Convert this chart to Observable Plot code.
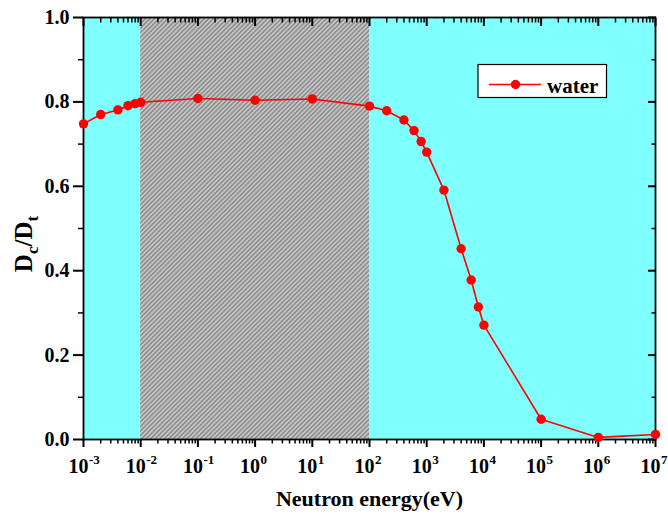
<!DOCTYPE html>
<html>
<head>
<meta charset="utf-8">
<script src="https://cdn.jsdelivr.net/npm/d3@7"></script>
<script src="https://cdn.jsdelivr.net/npm/@observablehq/plot@0.6"></script>
<style>
  html, body { margin: 0; padding: 0; background: #fff; }
  #chart svg { display: block; }
</style>
</head>
<body>
<div id="chart"></div>
<script>
// Neutron energy (eV) and the dose ratio Dc/Dt for water
const energy = [1e-3, 2e-3, 4e-3, 6e-3, 8e-3, 1e-2, 1e-1, 1, 10, 100, 200, 400, 600, 800,
                1e3, 2e3, 4e3, 6e3, 8e3, 1e4, 1e5, 1e6, 1e7];
const ratio = [0.748, 0.770, 0.781, 0.791, 0.796, 0.799, 0.808, 0.804, 0.807, 0.790, 0.779, 0.757,
               0.732, 0.706, 0.681, 0.591, 0.452, 0.378, 0.314, 0.271, 0.048, 0.005, 0.012];
const seriesName = "water";

// shaded energy band
const bandStart = [1e-2];
const bandEnd = [1e2];

// axis ticks
const decadeExponents = [-3, -2, -1, 0, 1, 2, 3, 4, 5, 6, 7];
const minorMultipliers = [2, 3, 4, 5, 6, 7, 8, 9];
const yTicks = [0, 0.2, 0.4, 0.6, 0.8, 1.0];
const yMinorTicks = [0.1, 0.3, 0.5, 0.7, 0.9];

const points = energy.map((e, i) => ({energy: e, ratio: ratio[i]}));
const band = bandStart.map((s, i) => ({start: s, end: bandEnd[i]}));
const xMajor = decadeExponents.map(k => 10 ** k);
const xMinor = decadeExponents.slice(0, -1).flatMap(k => minorMultipliers.map(m => m * 10 ** k));

const serif = "'Liberation Serif', 'Times New Roman', Times, serif";
const xMin = 1e-3, xMax = 1e7;

const noText = () => "";
const majorLen = 8, minorLen = 4.5;

// an axis of bare tick marks; `inward` shifts the outward-pointing ticks back across the frame edge
function tickAxis(dim, anchor, values, len, width, inward) {
  const shift = inward ? (anchor === "top" ? len : anchor === "right" ? -len : 0) : 0;
  const opts = {anchor, tickSize: len, tickPadding: 0, tickFormat: noText, label: null,
                stroke: "#000", strokeWidth: width};
  return dim === "x"
    ? Plot.axisX(values, {...opts, dy: shift})
    : Plot.axisY(values, {...opts, dx: shift});
}

const chart = Plot.plot({
  width: 668,
  height: 517,
  marginLeft: 83,
  marginRight: 13,
  marginTop: 17,
  marginBottom: 78,
  x: {type: "log", domain: [xMin, xMax], axis: null},
  y: {domain: [0, 1], axis: null},
  style: {fontFamily: serif, background: "#fff", overflow: "visible"},
  marks: [
    Plot.frame({fill: "#80ffff", stroke: null}),
    Plot.rect(band, {x1: "start", x2: "end", fill: "url(#hatch)"}),

    // bottom and left: outward ticks; top and right: inward ticks
    tickAxis("x", "bottom", xMajor, majorLen + 0, 2, false),
    tickAxis("x", "bottom", xMinor, minorLen, 1.5, false),
    tickAxis("x", "top", xMajor, majorLen, 2, true),
    tickAxis("x", "top", xMinor, minorLen, 1.5, true),
    tickAxis("y", "left", yTicks, 10, 2, false),
    tickAxis("y", "left", yMinorTicks, 5, 1.5, false),
    tickAxis("y", "right", yTicks, majorLen, 2, true),
    tickAxis("y", "right", yMinorTicks, minorLen, 1.5, true),

    Plot.frame({stroke: "#000", strokeWidth: 1.8}),

    // tick labels
    Plot.text(decadeExponents, {x: d => 10 ** d, y: 0, text: () => "10", textAnchor: "end", dx: 5, dy: 27.5,
      fontSize: 20, fontWeight: "bold", fill: "#000"}),
    Plot.text(decadeExponents, {x: d => 10 ** d, y: 0, text: d => String(d), textAnchor: "start", dx: 5.5, dy: 20,
      fontSize: 13, fontWeight: "bold", fill: "#000"}),
    Plot.text(yTicks, {x: xMin, y: d => d, text: d => d.toFixed(1), textAnchor: "end", dx: -14,
      fontSize: 20, fontWeight: "bold", fill: "#000"}),

    // x axis title
    Plot.text(["Neutron energy(eV)"], {frameAnchor: "bottom", text: d => d, dy: 66,
      fontSize: 22, fontWeight: "bold", fill: "#000"}),

    // data series
    Plot.line(points, {x: "energy", y: "ratio", stroke: "#ff0000", strokeWidth: 1.6}),
    Plot.dot(points, {x: "energy", y: "ratio", r: 4.7, fill: "#ff0000", stroke: null})
  ]
});

const svg = d3.select(chart);

// diagonal hatch for the shaded band
const defs = svg.insert("defs", ":first-child");
const pat = defs.append("pattern")
  .attr("id", "hatch")
  .attr("patternUnits", "userSpaceOnUse")
  .attr("width", 3.2)
  .attr("height", 3.2)
  .attr("patternTransform", "rotate(45)");
pat.append("rect").attr("width", 3.2).attr("height", 3.2).attr("fill", "#c6c6c6");
pat.append("line").attr("x1", 0.8).attr("y1", 0).attr("x2", 0.8).attr("y2", 3.2)
  .attr("stroke", "#8a8a8a").attr("stroke-width", 1.5);

// y axis title with subscripts
const yTitle = svg.append("text")
  .attr("transform", "translate(32,244) rotate(-90)")
  .attr("text-anchor", "middle")
  .attr("font-family", serif)
  .attr("font-weight", "bold")
  .attr("font-size", 25)
  .attr("fill", "#000");
yTitle.append("tspan").text("D");
yTitle.append("tspan").attr("font-size", 17).attr("dy", 6).text("c");
yTitle.append("tspan").attr("dy", -6).text("/D");
yTitle.append("tspan").attr("font-size", 17).attr("dy", 6).text("t");

// legend
const legend = svg.append("g");
legend.append("rect")
  .attr("x", 478).attr("y", 64.5).attr("width", 128.5).attr("height", 33)
  .attr("fill", "#fff").attr("stroke", "#000").attr("stroke-width", 1.2);
legend.append("line")
  .attr("x1", 489).attr("x2", 541).attr("y1", 84.5).attr("y2", 84.5)
  .attr("stroke", "#ff0000").attr("stroke-width", 1.6);
legend.append("circle")
  .attr("cx", 515.5).attr("cy", 84.5).attr("r", 4.7).attr("fill", "#ff0000");
legend.append("text")
  .attr("x", 547).attr("y", 92.5)
  .attr("text-anchor", "start")
  .attr("font-family", serif).attr("font-weight", "bold").attr("font-size", 21)
  .attr("fill", "#000")
  .text(seriesName);

document.getElementById("chart").appendChild(chart);
</script>
</body>
</html>
